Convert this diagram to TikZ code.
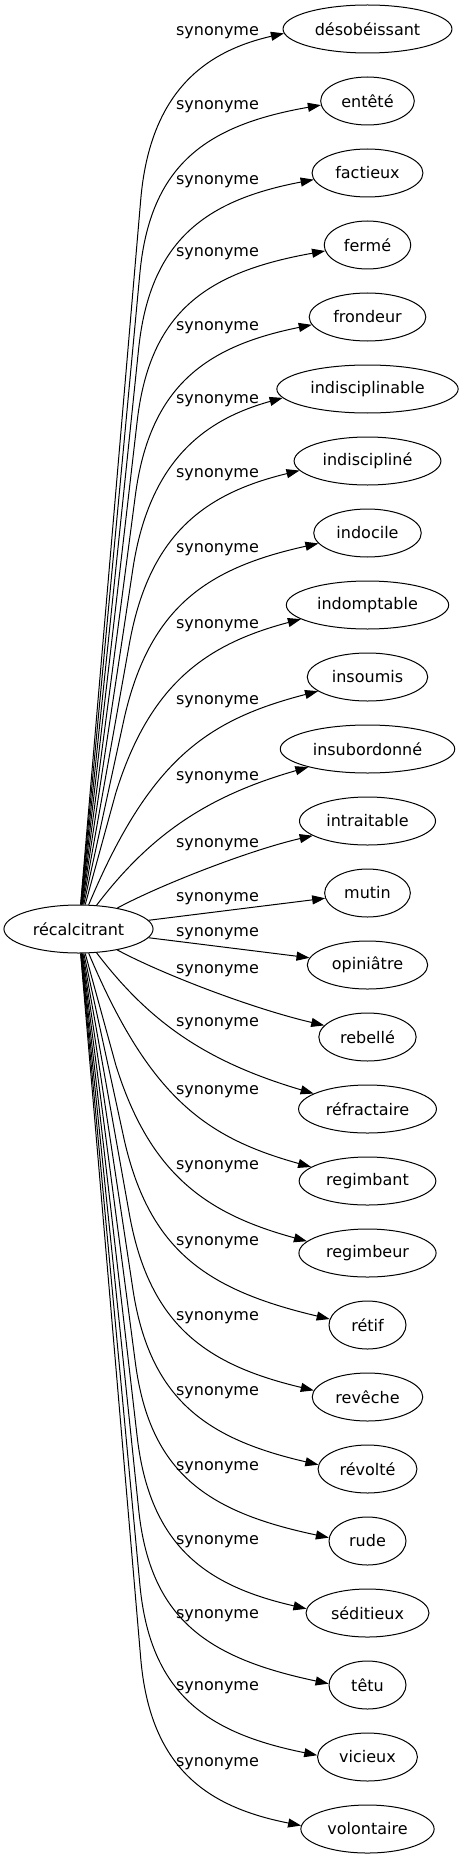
\documentclass[tikz,border=0pt]{standalone}
\usepackage{fontspec}
\setmainfont{DejaVu Sans}
\usetikzlibrary{shapes.geometric, arrows.meta}

\begin{document}
\begin{tikzpicture}[x=1pt, y=-1pt, line width=1pt,
    word/.style={draw, ellipse, minimum width=77pt, minimum height=48pt, inner xsep=7pt, font=\fontsize{16}{19}\selectfont},
    syn/.style={font=\fontsize{16}{19}\selectfont, inner sep=0pt},
    link/.style={-{Triangle[length=13pt, width=9pt]}}]
    \useasboundingbox (0,0) rectangle (463,1859);

    \node[word] (rec) at (78.5,929) {récalcitrant};

    \node[word] (desobeissant) at (367.5,29) {désobéissant};
    \node[word] (entete) at (367.5,101) {entêté};
    \node[word] (factieux) at (367.5,173) {factieux};
    \node[word] (ferme) at (367.5,245) {fermé};
    \node[word] (frondeur) at (367.5,317) {frondeur};
    \node[word] (indisciplinable) at (367.5,389) {indisciplinable};
    \node[word] (indiscipline) at (367.5,461) {indiscipliné};
    \node[word] (indocile) at (367.5,533) {indocile};
    \node[word] (indomptable) at (367.5,605) {indomptable};
    \node[word] (insoumis) at (367.5,677) {insoumis};
    \node[word] (insubordonne) at (367.5,749) {insubordonné};
    \node[word] (intraitable) at (367.5,821) {intraitable};
    \node[word] (mutin) at (367.5,893) {mutin};
    \node[word] (opiniatre) at (367.5,965) {opiniâtre};
    \node[word] (rebelle) at (367.5,1037) {rebellé};
    \node[word] (refractaire) at (367.5,1109) {réfractaire};
    \node[word] (regimbant) at (367.5,1181) {regimbant};
    \node[word] (regimbeur) at (367.5,1253) {regimbeur};
    \node[word] (retif) at (367.5,1325) {rétif};
    \node[word] (reveche) at (367.5,1397) {revêche};
    \node[word] (revolte) at (367.5,1469) {révolté};
    \node[word] (rude) at (367.5,1541) {rude};
    \node[word] (seditieux) at (367.5,1613) {séditieux};
    \node[word] (tetu) at (367.5,1685) {têtu};
    \node[word] (vicieux) at (367.5,1757) {vicieux};
    \node[word] (volontaire) at (367.5,1829) {volontaire};

    % upper half
    \draw[link] (rec) -- (140.7,200) .. controls (150,90) and (207,51) .. (desobeissant.183) node[syn] at (217.5,33) {synonyme};
    \draw[link] (rec) -- (139.8,274) .. controls (150,164) and (207,125) .. (entete.185) node[syn] at (217.5,107) {synonyme};
    \draw[link] (rec) -- (138.6,349) .. controls (150,239) and (207,200) .. (factieux.187) node[syn] at (217.5,182) {synonyme};
    \draw[link] (rec) -- (137.2,421) .. controls (150,311) and (207,272) .. (ferme.188) node[syn] at (217.5,254) {synonyme};
    \draw[link] (rec) -- (135.4,495) .. controls (150,385) and (207,346) .. (frondeur.188) node[syn] at (217.5,328) {synonyme};
    \draw[link] (rec) -- (133,568) .. controls (150,458) and (207,419) .. (indisciplinable.186) node[syn] at (217.5,401) {synonyme};
    \draw[link] (rec) -- (129.7,642) .. controls (150,532) and (207,493) .. (indiscipline.188) node[syn] at (217.5,475) {synonyme};
    \draw[link] (rec) -- (124.5,717) .. controls (150,607) and (207,568) .. (indocile.192) node[syn] at (217.5,550) {synonyme};
    \draw[link] (rec) -- (115.8,793) .. controls (150,683) and (207,644) .. (indomptable.192) node[syn] at (217.5,626) {synonyme};
    \draw[link] (rec) .. controls (150,759) and (207,720) .. (insoumis.196) node[syn] at (217.5,702) {synonyme};
    \draw[link] (rec) .. controls (150,835) and (207,796) .. (insubordonne.197) node[syn] at (217.5,778) {synonyme};
    \draw[link] (rec) .. controls (160,885) and (250,850) .. (intraitable.195) node[syn] at (217.5,845) {synonyme};
    \draw[link] (rec) -- (mutin) node[syn] at (217.5,899) {synonyme};
    % lower half
    \draw[link] (rec) -- (opiniatre) node[syn] at (217.5,934) {synonyme};
    \draw[link] (rec) .. controls (160,973) and (250,1008) .. (rebelle.165) node[syn] at (217.5,971) {synonyme};
    \draw[link] (rec) .. controls (150,1023) and (207,1062) .. (refractaire.164) node[syn] at (217.5,1024) {synonyme};
    \draw[link] (rec) .. controls (150,1099) and (207,1138) .. (regimbant.166) node[syn] at (217.5,1092) {synonyme};
    \draw[link] (rec) -- (115.8,1065) .. controls (150,1175) and (207,1214) .. (regimbeur.169) node[syn] at (217.5,1167) {synonyme};
    \draw[link] (rec) -- (124.5,1141) .. controls (150,1251) and (207,1290) .. (retif.171) node[syn] at (217.5,1243) {synonyme};
    \draw[link] (rec) -- (129.7,1216) .. controls (150,1326) and (207,1365) .. (reveche.173) node[syn] at (217.5,1318) {synonyme};
    \draw[link] (rec) -- (133,1290) .. controls (150,1400) and (207,1439) .. (revolte.175) node[syn] at (217.5,1393) {synonyme};
    \draw[link] (rec) -- (135.4,1363) .. controls (150,1473) and (207,1512) .. (rude.175) node[syn] at (217.5,1468) {synonyme};
    \draw[link] (rec) -- (137.2,1437) .. controls (150,1547) and (207,1586) .. (seditieux.176) node[syn] at (217.5,1542) {synonyme};
    \draw[link] (rec) -- (138.6,1509) .. controls (150,1619) and (207,1658) .. (tetu.178) node[syn] at (217.5,1616) {synonyme};
    \draw[link] (rec) -- (139.8,1584) .. controls (150,1694) and (207,1733) .. (vicieux.178) node[syn] at (217.5,1688) {synonyme};
    \draw[link] (rec) -- (140.7,1658) .. controls (150,1768) and (207,1807) .. (volontaire.177) node[syn] at (217.5,1764) {synonyme};
\end{tikzpicture}
\end{document}
